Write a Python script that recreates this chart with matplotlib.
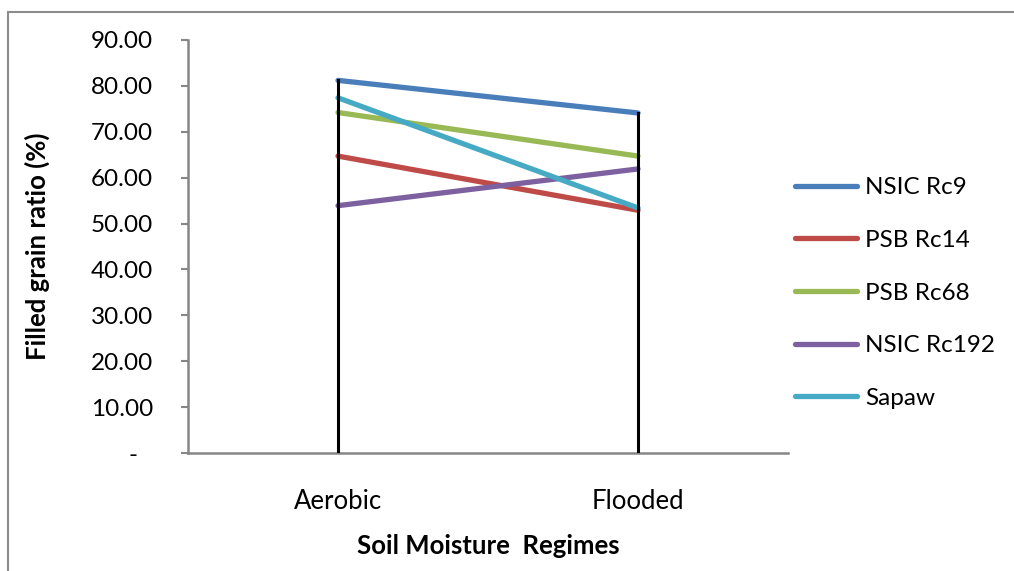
import matplotlib
matplotlib.use("Agg")
import matplotlib.pyplot as plt
from matplotlib.patches import Rectangle
from matplotlib.transforms import ScaledTranslation
from matplotlib.ticker import FuncFormatter

plt.rcParams["font.family"] = ["Lato", "DejaVu Sans"]

regimes = ["Aerobic", "Flooded"]
varieties = ["NSIC Rc9", "PSB Rc14", "PSB Rc68", "NSIC Rc192", "Sapaw"]
nsic_rc9 = [81.2, 74.1]
psb_rc14 = [64.7, 52.9]
psb_rc68 = [74.2, 64.7]
nsic_rc192 = [53.9, 61.9]
sapaw = [77.4, 53.4]
series = [nsic_rc9, psb_rc14, psb_rc68, nsic_rc192, sapaw]
colors = ["#4A7EBB", "#BE4B48", "#98B954", "#7D60A0", "#46AAC5"]
y_ticks = [0, 10, 20, 30, 40, 50, 60, 70, 80, 90]

fig = plt.figure(figsize=(10.14, 5.71), dpi=100)
ax = fig.add_axes([188 / 1014, 1 - 453 / 571, 600 / 1014, 413 / 571])

# outer chart border (runs off the right and bottom edges)
fig.patches.append(Rectangle((8 / 1014, -0.1), 1.2, 1 - 12 / 571 + 0.1,
                             transform=fig.transFigure, fill=False,
                             edgecolor="#8C8C8C", linewidth=1.5))

x = list(range(len(regimes)))
for vals, name, c in zip(series, varieties, colors):
    ax.plot(x, vals, color=c, linewidth=3.8, solid_capstyle="round",
            label=name, zorder=3)

# drop lines from the highest value at each regime
for i in x:
    top = max(s[i] for s in series)
    ax.plot([i, i], [0, top], color="black", linewidth=2.2, zorder=4)

ax.set_xlim(-0.5, 1.5)
ax.set_ylim(0, 90)
ax.set_xticks(x)
ax.set_xticklabels(regimes)
ax.set_yticks(y_ticks)
ax.yaxis.set_major_formatter(FuncFormatter(lambda v, p: "-" if v == 0 else f"{v:.2f}"))

for side in ("top", "right"):
    ax.spines[side].set_visible(False)
for side in ("left", "bottom"):
    ax.spines[side].set_color("#868686")
    ax.spines[side].set_linewidth(1.8)

ax.tick_params(axis="y", length=5, width=1.5, color="#868686",
               labelsize=17.5, pad=20)
ax.tick_params(axis="x", length=0, labelsize=18.5, pad=26)

# shift the zero label left like an accounting format
zero_lbl = ax.get_yticklabels()[0]
zero_lbl.set_transform(zero_lbl.get_transform()
                       + ScaledTranslation(-0.16, 0, fig.dpi_scale_trans))

ax.set_xlabel("Soil Moisture  Regimes", fontsize=18.5, fontweight="bold",
              labelpad=14)
ax.set_ylabel("Filled grain ratio (%)", fontsize=18.5, fontweight="bold")
ax.yaxis.set_label_coords(-0.23, 0.5)

ax.legend(loc="center left", bbox_to_anchor=(795 / 1014, 1 - 293 / 571),
          bbox_transform=fig.transFigure, frameon=False, fontsize=17.5,
          handlelength=2.55, handletextpad=0.35, labelspacing=1.3,
          borderaxespad=0, borderpad=0)

fig.savefig("out.png", dpi=100)
